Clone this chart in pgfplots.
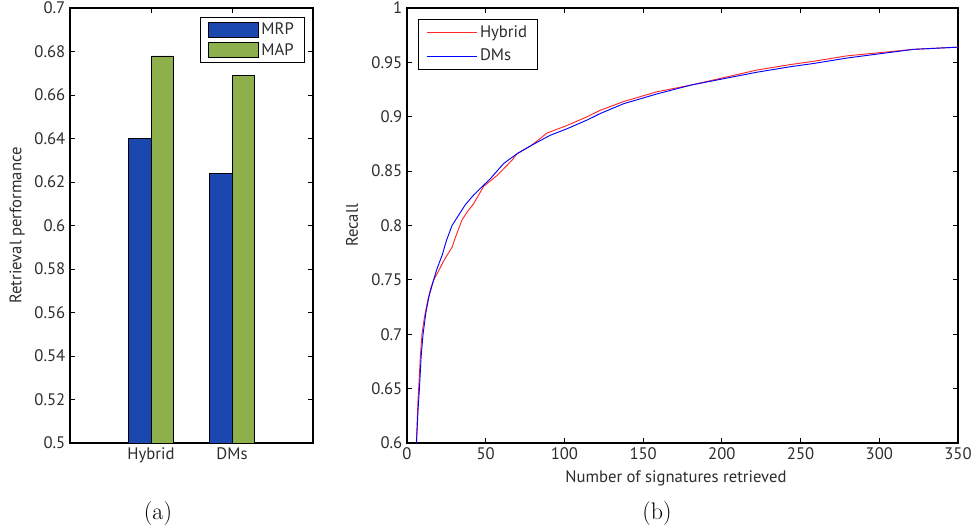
\documentclass[border=0pt]{standalone}
\usepackage{pgfplots}
\pgfplotsset{compat=1.18}
\usepackage{fontspec}
\setmainfont{PT Sans}
\definecolor{mrpblue}{RGB}{27,71,177}
\definecolor{mapgreen}{RGB}{141,176,77}
\definecolor{txtgray}{RGB}{45,45,45}
\begin{document}
\begin{tikzpicture}[x=1pt,y=1pt]
\useasboundingbox (0,0) rectangle (728.25,396.75);
\pgfplotsset{
  every axis/.append style={
    scale only axis, height=326.25pt,
    tick align=inside, major tick length=3.75pt,
    axis line style={black, line width=0.9pt},
    every tick/.style={black, line width=0.6pt},
    tick label style={font=\fontsize{12.5}{14}\selectfont, text=txtgray},
    label style={font=\fontsize{12.5}{14}\selectfont, text=txtgray},
    /pgf/number format/assume math mode=true,
    legend style={draw=black, line width=0.6pt, font=\fontsize{12.5}{14}\selectfont, text=txtgray, legend cell align=left},
  }
}
\begin{axis}[
  at={(52.5pt,64.5pt)}, anchor=south west, width=182.25pt,
  xmin=0, xmax=3, ymin=0.5, ymax=0.7,
  xtick={1,2}, xticklabels={Hybrid,DMs},
  ytick={0.5,0.52,0.54,0.56,0.58,0.6,0.62,0.64,0.66,0.68,0.7},
  ylabel={Retrieval performance},
  ylabel style={at={(axis description cs:-0.218,0.5)}, anchor=center},
  legend style={at={(axis description cs:0.967,0.979)}, anchor=north east,
    row sep=1pt, inner xsep=6pt, inner ysep=2pt},
  legend image code/.code={\draw[#1, line width=0.5pt] (0pt,-5.6pt) rectangle (37.5pt,5.6pt);},
]
\addplot[ybar, bar width=0.28, bar shift=0pt, fill=mrpblue, draw=black, line width=0.5pt]
  coordinates {(0.86,0.640) (1.86,0.624)};
\addlegendentry{MRP}
\addplot[ybar, bar width=0.28, bar shift=0pt, fill=mapgreen, draw=black, line width=0.5pt]
  coordinates {(1.14,0.678) (2.14,0.669)};
\addlegendentry{MAP}
\end{axis}
\begin{axis}[
  at={(305.25pt,64.5pt)}, anchor=south west, width=413.25pt,
  xmin=0, xmax=350, ymin=0.6, ymax=1,
  xtick={0,50,...,350},
  ytick={0.6,0.65,0.7,0.75,0.8,0.85,0.9,0.95,1},
  xlabel={Number of signatures retrieved},
  xlabel style={at={(axis description cs:0.488,-0.0805)}, anchor=center},
  ylabel={Recall},
  ylabel style={at={(axis description cs:-0.0998,0.5)}, anchor=center},
  legend style={at={(axis description cs:0.02,0.975)}, anchor=north west,
    row sep=3pt, inner xsep=6pt, inner ysep=3pt},
  legend image code/.code={\draw[#1] (0pt,0pt) -- (37.5pt,0pt);},
]
\addplot[red!85!white, line width=0.7pt] coordinates {
(6,0.6) (7,0.64) (7.4,0.65) (8.5,0.68) (9.5,0.70) (11,0.715) (13,0.73) (15,0.742)
(17,0.75) (20,0.758) (23.5,0.768) (28.6,0.78) (31,0.79) (34.9,0.805) (38.5,0.813) (42.3,0.820)
(48.7,0.836) (57.2,0.846) (66.7,0.860) (69.9,0.866) (79.4,0.874) (88.9,0.885)
(101.7,0.892) (114.4,0.900) (122.8,0.906) (137.6,0.914) (158.8,0.923) (180,0.929)
(201.2,0.936) (222.4,0.943) (243.5,0.948) (258.3,0.951) (279.5,0.956) (300.7,0.959)
(321.9,0.962) (350,0.964)};
\addlegendentry{Hybrid}
\addplot[blue, line width=0.7pt] coordinates {
(6,0.6) (7,0.63) (7.9,0.65) (9,0.68) (10.2,0.70) (12,0.72) (14,0.735) (16.9,0.75)
(19,0.76) (22.4,0.773) (25,0.786) (28.6,0.80) (33,0.81) (37,0.819) (42.3,0.828)
(52.9,0.843) (61.4,0.857) (69.9,0.866) (79.4,0.874) (91,0.883) (101.7,0.889)
(114.4,0.897) (122.8,0.903) (137.6,0.912) (158.8,0.921) (180,0.929) (201.2,0.935)
(222.4,0.941) (243.5,0.946) (258.3,0.949) (279.5,0.954) (300.7,0.958) (321.9,0.962)
(350,0.964)};
\addlegendentry{DMs}
\end{axis}
\node[font=\fontfamily{lmr}\selectfont\fontsize{18}{20}\selectfont] at (118.5,11.25) {(a)};
\node[font=\fontfamily{lmr}\selectfont\fontsize{18}{20}\selectfont] at (492.75,11.25) {(b)};
\end{tikzpicture}
\end{document}
